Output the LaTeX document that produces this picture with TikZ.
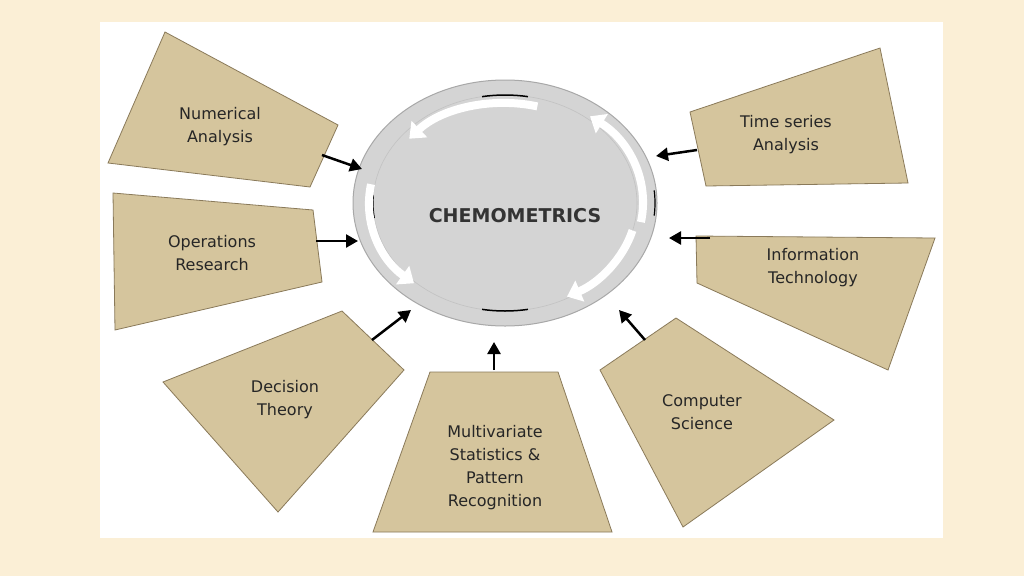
\documentclass[tikz,border=0pt]{standalone}
\usepackage{fontspec}
\setmainfont{DejaVu Sans}
\usetikzlibrary{arrows.meta,shapes.geometric}
\definecolor{bgc}{HTML}{FBEFD6}
\definecolor{tan}{HTML}{D5C59D}
\definecolor{tanb}{HTML}{8A7A5A}
\definecolor{circ}{HTML}{D4D4D4}
\definecolor{circb}{HTML}{A8A8A8}
\begin{document}
\begin{tikzpicture}[x=1pt,y=-1pt,
 box/.style={fill=tan,draw=tanb,line width=0.8pt},
 lbl/.style={font=\fontsize{16}{23}\selectfont,align=center,text=black!85},
 arr/.style={-{Triangle[width=13pt,length=12pt]},line width=2.5pt},
 warr/.style={white,line width=8pt,-{Triangle[width=22pt,length=14pt]}}]
\useasboundingbox (0,0) rectangle (1024,576);
\fill[bgc] (0,0) rectangle (1024,576);
\fill[white] (100,22) rectangle (943,538);
% boxes
\draw[box] (165,32)--(338,125)--(310,187)--(108,163)--cycle;
\node[lbl] (na) at (220,127) {Numerical\\Analysis};
\draw[box] (113,193)--(313,210)--(322,282)--(115,330)--cycle;
\node[lbl] (or) at (212,253) {Operations\\Research};
\draw[box] (163,382)--(342,311)--(404,370)--(278,512)--cycle;
\node[lbl] (dt) at (285,400) {Decision\\Theory};
\draw[box] (430,372)--(558,372)--(612,532)--(373,532)--cycle;
\node[lbl] (mv) at (495,468) {Multivariate\\Statistics \&\\Pattern\\Recognition};
\draw[box] (600,370)--(676,318)--(834,420)--(683,527)--cycle;
\node[lbl] (cs) at (702,412) {Computer\\Science};
\draw[box] (696,236)--(935,238)--(888,370)--(697,283)--cycle;
\node[lbl] (it) at (813,268) {Information\\Technology};
\draw[box] (690,112)--(880,48)--(908,183)--(706,186)--cycle;
\node[lbl] (ts) at (786,135) {Time series\\Analysis};
% circle
\fill[circ,draw=circb,line width=1pt] (505,203) ellipse [x radius=152,y radius=123];
\draw[circb!70,line width=0.6pt] (505,203) ellipse [x radius=132,y radius=108];
\draw[black,line width=1.5pt] (505,203) ++(80:132 and 108) arc[start angle=80,end angle=100,x radius=132,y radius=108];
\draw[black,line width=1.5pt] (505,203) ++(260:132 and 108) arc[start angle=260,end angle=280,x radius=132,y radius=108];
\draw[black,line width=1.2pt] (505,203) ++(172:132 and 108) arc[start angle=172,end angle=184,x radius=132,y radius=108];
\draw[black,line width=1.2pt] (505,203) ++(-6:150 and 121) arc[start angle=-6,end angle=6,x radius=150,y radius=121];
\draw[warr] (505,203) ++(-75:125 and 100) arc[start angle=-75,end angle=-140,x radius=125,y radius=100];
\draw[warr] (505,203) ++(10:138 and 110) arc[start angle=10,end angle=-52,x radius=138,y radius=110];
\draw[warr] (505,203) ++(-170:136 and 108) arc[start angle=-170,end angle=-228,x radius=136,y radius=108];
\draw[warr] (505,203) ++(15:132 and 106) arc[start angle=15,end angle=62,x radius=132,y radius=106];
\node[font=\bfseries\fontsize{19}{22}\selectfont,text=black!80] (cm) at (515,216) {CHEMOMETRICS};
% arrows
\coordinate (a1) at (322,155); \coordinate (b1) at (362,169);
\coordinate (a2) at (316,241); \coordinate (b2) at (358,241);
\coordinate (a3) at (372,340); \coordinate (b3) at (411,310);
\coordinate (a4) at (494,370); \coordinate (b4) at (494,342);
\coordinate (a5) at (645,340); \coordinate (b5) at (619,310);
\coordinate (a6) at (710,238); \coordinate (b6) at (669,238);
\coordinate (a7) at (697,150); \coordinate (b7) at (656,156);
\foreach \i in {1,...,7} \draw[arr] (a\i) -- (b\i);
\end{tikzpicture}
\end{document}
